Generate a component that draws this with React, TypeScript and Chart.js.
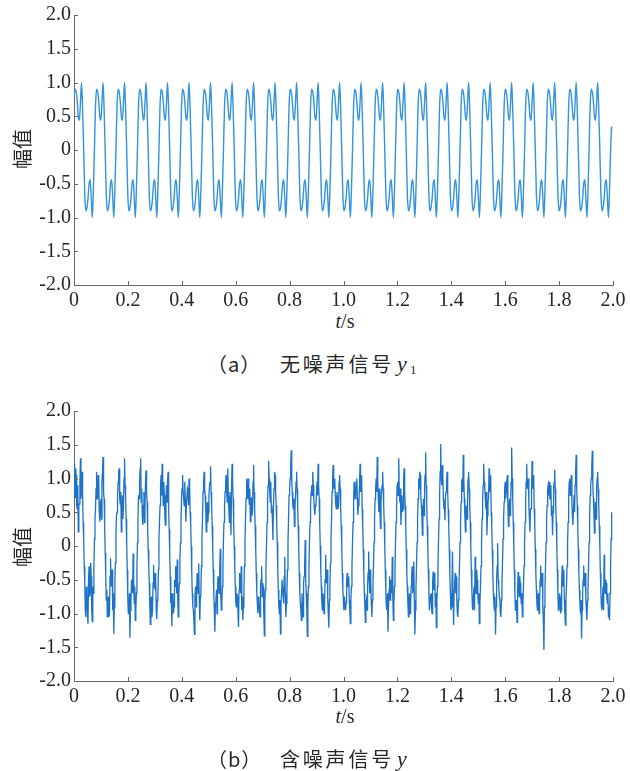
import React, { useEffect, useRef } from 'react';
import { Chart, registerables } from 'chart.js';

Chart.register(...registerables);

// sampling intervals (s)
const CLEAN_STEP = 0.00399;
const NOISY_STEP = 0.001995;

const X_TICKS = [0, 0.2, 0.4, 0.6, 0.8, 1.0, 1.2, 1.4, 1.6, 1.8, 2.0];
const Y_TICKS = [-2, -1.5, -1, -0.5, 0, 0.5, 1, 1.5, 2];

// (a) clean signal y1, read cycle by cycle (25 cycles, 20 samples each)
const cleanSignal = [
  0.8, 0.9, 0.86, 0.72, 0.5, 0.44, 0.7, 1, 0.6, 0, -0.65, -0.9, -0.86, -0.72, -0.5, -0.44, -0.7, -1, -0.6, 0,
  0.65, 0.9, 0.86, 0.72, 0.5, 0.44, 0.7, 1, 0.6, 0, -0.65, -0.9, -0.86, -0.72, -0.5, -0.44, -0.7, -1, -0.6, 0,
  0.65, 0.9, 0.86, 0.72, 0.5, 0.44, 0.7, 1, 0.6, 0, -0.65, -0.9, -0.86, -0.72, -0.5, -0.44, -0.7, -1, -0.6, 0,
  0.65, 0.9, 0.86, 0.72, 0.5, 0.44, 0.7, 1, 0.6, 0, -0.65, -0.9, -0.86, -0.72, -0.5, -0.44, -0.7, -1, -0.6, 0,
  0.65, 0.9, 0.86, 0.72, 0.5, 0.44, 0.7, 1, 0.6, 0, -0.65, -0.9, -0.86, -0.72, -0.5, -0.44, -0.7, -1, -0.6, 0,
  0.65, 0.9, 0.86, 0.72, 0.5, 0.44, 0.7, 1, 0.6, 0, -0.65, -0.9, -0.86, -0.72, -0.5, -0.44, -0.7, -1, -0.6, 0,
  0.65, 0.9, 0.86, 0.72, 0.5, 0.44, 0.7, 1, 0.6, 0, -0.65, -0.9, -0.86, -0.72, -0.5, -0.44, -0.7, -1, -0.6, 0,
  0.65, 0.9, 0.86, 0.72, 0.5, 0.44, 0.7, 1, 0.6, 0, -0.65, -0.9, -0.86, -0.72, -0.5, -0.44, -0.7, -1, -0.6, 0,
  0.65, 0.9, 0.86, 0.72, 0.5, 0.44, 0.7, 1, 0.6, 0, -0.65, -0.9, -0.86, -0.72, -0.5, -0.44, -0.7, -1, -0.6, 0,
  0.65, 0.9, 0.86, 0.72, 0.5, 0.44, 0.7, 1, 0.6, 0, -0.65, -0.9, -0.86, -0.72, -0.5, -0.44, -0.7, -1, -0.6, 0,
  0.65, 0.9, 0.86, 0.72, 0.5, 0.44, 0.7, 1, 0.6, 0, -0.65, -0.9, -0.86, -0.72, -0.5, -0.44, -0.7, -1, -0.6, 0,
  0.65, 0.9, 0.86, 0.72, 0.5, 0.44, 0.7, 1, 0.6, 0, -0.65, -0.9, -0.86, -0.72, -0.5, -0.44, -0.7, -1, -0.6, 0,
  0.65, 0.9, 0.86, 0.72, 0.5, 0.44, 0.7, 1, 0.6, 0, -0.65, -0.9, -0.86, -0.72, -0.5, -0.44, -0.7, -1, -0.6, 0,
  0.65, 0.9, 0.86, 0.72, 0.5, 0.44, 0.7, 1, 0.6, 0, -0.65, -0.9, -0.86, -0.72, -0.5, -0.44, -0.7, -1, -0.6, 0,
  0.65, 0.9, 0.86, 0.72, 0.5, 0.44, 0.7, 1, 0.6, 0, -0.65, -0.9, -0.86, -0.72, -0.5, -0.44, -0.7, -1, -0.6, 0,
  0.65, 0.9, 0.86, 0.72, 0.5, 0.44, 0.7, 1, 0.6, 0, -0.65, -0.9, -0.86, -0.72, -0.5, -0.44, -0.7, -1, -0.6, 0,
  0.65, 0.9, 0.86, 0.72, 0.5, 0.44, 0.7, 1, 0.6, 0, -0.65, -0.9, -0.86, -0.72, -0.5, -0.44, -0.7, -1, -0.6, 0,
  0.65, 0.9, 0.86, 0.72, 0.5, 0.44, 0.7, 1, 0.6, 0, -0.65, -0.9, -0.86, -0.72, -0.5, -0.44, -0.7, -1, -0.6, 0,
  0.65, 0.9, 0.86, 0.72, 0.5, 0.44, 0.7, 1, 0.6, 0, -0.65, -0.9, -0.86, -0.72, -0.5, -0.44, -0.7, -1, -0.6, 0,
  0.65, 0.9, 0.86, 0.72, 0.5, 0.44, 0.7, 1, 0.6, 0, -0.65, -0.9, -0.86, -0.72, -0.5, -0.44, -0.7, -1, -0.6, 0,
  0.65, 0.9, 0.86, 0.72, 0.5, 0.44, 0.7, 1, 0.6, 0, -0.65, -0.9, -0.86, -0.72, -0.5, -0.44, -0.7, -1, -0.6, 0,
  0.65, 0.9, 0.86, 0.72, 0.5, 0.44, 0.7, 1, 0.6, 0, -0.65, -0.9, -0.86, -0.72, -0.5, -0.44, -0.7, -1, -0.6, 0,
  0.65, 0.9, 0.86, 0.72, 0.5, 0.44, 0.7, 1, 0.6, 0, -0.65, -0.9, -0.86, -0.72, -0.5, -0.44, -0.7, -1, -0.6, 0,
  0.65, 0.9, 0.86, 0.72, 0.5, 0.44, 0.7, 1, 0.6, 0, -0.65, -0.9, -0.86, -0.72, -0.5, -0.44, -0.7, -1, -0.6, 0,
  0.65, 0.9, 0.86, 0.72, 0.5, 0.44, 0.7, 1, 0.6, 0, -0.65, -0.9, -0.86, -0.72, -0.5, -0.44, -0.7, -1, -0.6, 0,
  0.35,
];

// (b) noisy signal y, read cycle by cycle (25 cycles, 40 samples each)
const noisySignal = [
  1.22, 0.95, 0.72, 1.15, 1.05, 0.6, 0.55, 0.9, 0.21, 0.62, 0.62, 0.95, 1.3, 0.7, 0.85, 1.1, 0.75, 0.35, 0.1, -0.3, -0.55, -0.95, -1.05, -0.6, -0.7, -1.0, -1.15, -0.5, -0.3, -0.75, -0.7, -0.25, -0.45, -0.95, -1.12, -0.6, -0.7, -0.3, 0.1, 0.4,
  0.55, 0.85, 1.1, 0.7, 0.8, 1.05, 1.0, 0.5, 0.36, 0.65, 0.7, 0.4, 0.95, 1.1, 1.32, 0.8, 0.7, 0.3, -0.1, -0.4, -0.8, -0.65, -1.05, -0.8, -0.75, -1.05, -1.0, -0.45, -0.18, -0.6, -0.6, -0.35, -0.95, -0.7, -1.3, -0.9, -0.55, -0.25, 0.15, 0.45,
  0.5, 0.75, 0.95, 1.1, 1.15, 0.7, 0.62, 0.8, 0.21, 0.5, 0.75, 0.4, 0.58, 1.0, 1.3, 0.9, 0.75, 0.4, 0.05, -0.35, -0.75, -1.0, -0.95, -0.7, -1.36, -0.95, -0.8, -0.5, -0.55, -0.7, -0.11, -0.5, -0.85, -0.6, -1.1, -0.95, -0.7, -0.35, 0.05, 0.4,
  0.75, 0.7, 0.98, 1.15, 1.3, 0.65, 0.85, 0.45, 0.31, 0.6, 0.8, 0.35, 0.55, 0.95, 1.12, 0.8, 0.65, 0.25, -0.05, -0.3, -0.55, -0.9, -1.16, -0.8, -0.75, -1.05, -0.95, -0.55, -0.28, -0.6, -0.62, -0.4, -0.5, -0.95, -1.08, -0.8, -0.75, -0.35, 0.1, 0.35,
  0.6, 0.9, 1.05, 0.75, 1.22, 0.85, 0.6, 0.95, 0.75, 0.45, 0.31, 0.7, 0.9, 0.65, 0.95, 1.1, 0.55, 0.25, -0.1, -0.45, -0.85, -0.7, -1.19, -0.85, -0.7, -1.0, -0.9, -0.5, -0.6, -0.3, -0.35, -0.7, -0.2, -0.8, -1.05, -0.7, -0.55, -0.2, 0.05, 0.35,
  0.7, 0.85, 1.05, 0.8, 0.8, 0.6, 0.95, 0.7, 0.36, 0.6, 0.6, 0.85, 0.82, 0.6, 1.0, 0.9, 0.5, 0.35, 0.0, -0.4, -0.7, -0.9, -0.95, -1.1, -1.31, -0.75, -0.6, -0.9, -0.75, -0.4, -0.45, -0.7, -0.26, -0.8, -1.1, -0.75, -0.65, -0.3, 0.1, 0.4,
  0.8, 0.95, 1.1, 0.85, 0.75, 0.55, 0.21, 0.5, 0.65, 0.35, 0.5, 0.75, 0.9, 0.95, 1.18, 0.8, 0.6, 0.3, -0.05, -0.35, -0.7, -0.95, -1.27, -0.85, -0.8, -0.65, -1.0, -0.55, -0.45, -0.6, -0.7, -0.35, -0.04, -0.75, -0.95, -0.85, -0.6, -0.3, 0.1, 0.35,
  0.6, 0.8, 0.95, 1.05, 0.8, 0.65, 1.15, 0.75, 0.55, 0.35, 0.8, 0.5, 0.16, 0.85, 1.22, 0.95, 0.7, 0.35, 0.0, -0.3, -0.6, -0.85, -0.9, -0.7, -0.75, -1.0, -1.2, -0.65, -0.4, -0.55, -0.7, -0.3, -0.95, -0.75, -1.1, -0.9, -0.65, -0.3, 0.05, 0.4,
  0.7, 1.0, 0.85, 0.7, 1.0, 0.75, 0.62, 0.85, 0.36, 0.55, 0.72, 0.45, 0.5, 0.95, 1.2, 0.8, 0.55, 0.3, -0.05, -0.4, -0.7, -0.85, -1.0, -0.75, -0.8, -0.95, -1.05, -0.6, -0.5, -0.3, -0.75, -0.55, -0.6, -1.0, -1.33, -0.8, -0.65, -0.3, 0.0, 0.35,
  0.7, 0.9, 1.26, 1.0, 0.8, 0.65, 0.95, 0.5, 0.6, 0.4, 0.09, 0.6, 0.85, 1.1, 1.05, 0.8, 0.6, 0.35, 0.05, -0.35, -0.65, -0.9, -1.0, -0.8, -1.3, -0.85, -0.7, -0.5, -0.5, -0.75, -0.85, -0.45, -0.16, -0.7, -1.05, -0.85, -0.7, -0.35, 0.05, 0.4,
  0.75, 0.85, 1.0, 1.15, 1.42, 0.95, 0.8, 0.6, 0.55, 0.7, 0.29, 0.55, 0.75, 0.95, 1.1, 0.85, 0.6, 0.3, -0.05, -0.4, -0.7, -0.85, -0.95, -1.1, -0.7, -0.9, -1.05, -0.55, -0.45, -0.3, 0.09, -0.5, -0.7, -0.95, -1.34, -0.85, -0.6, -0.3, 0.05, 0.35,
  0.6, 0.8, 0.9, 0.75, 1.1, 0.9, 0.7, 0.55, 0.46, 0.6, 0.62, 0.8, 0.95, 0.75, 1.22, 0.9, 0.7, 0.35, 0.0, -0.35, -0.6, -0.85, -0.95, -0.7, -0.75, -1.0, -0.9, -0.5, -0.13, -0.55, -0.55, -0.35, -0.8, -1.0, -1.21, -0.8, -0.55, -0.25, 0.1, 0.4,
  0.8, 1.0, 1.2, 0.85, 0.9, 1.0, 0.75, 0.6, 0.55, 0.8, 0.7, 0.55, 0.6, 0.95, 1.05, 0.85, 0.55, 0.3, 0.0, -0.4, -0.65, -0.8, -0.95, -0.75, -0.75, -0.95, -0.85, -0.55, -0.4, -0.6, -0.6, -0.45, -0.8, -0.95, -1.15, -0.8, -0.6, -0.3, 0.05, 0.35,
  0.65, 0.95, 0.9, 0.7, 0.75, 0.95, 1.0, 0.7, 0.46, 0.6, 0.65, 0.9, 1.22, 0.8, 0.95, 1.05, 0.55, 0.3, -0.05, -0.4, -0.7, -0.9, -1.13, -0.85, -0.8, -0.95, -0.6, -0.4, -0.08, -0.5, -0.7, -0.35, -0.55, -0.85, -1.05, -0.8, -0.6, -0.3, 0.05, 0.4,
  0.7, 0.85, 1.0, 0.8, 1.32, 0.95, 0.7, 0.5, 0.85, 0.55, 0.26, 0.65, 0.8, 0.9, 1.1, 0.85, 0.6, 0.35, 0.0, -0.35, -0.7, -0.9, -0.95, -0.7, -1.27, -0.9, -0.65, -0.45, -0.8, -0.55, -0.5, -0.7, -0.16, -0.75, -1.1, -0.85, -0.6, -0.3, 0.05, 0.35,
  0.6, 0.9, 0.95, 0.75, 1.3, 0.8, 0.65, 0.85, 0.31, 0.55, 0.75, 0.5, 0.55, 1.0, 1.15, 0.8, 0.6, 0.3, -0.05, -0.4, -0.6, -0.85, -1.05, -0.8, -0.7, -1.0, -0.95, -0.6, -0.45, -0.3, -0.7, -0.5, -0.23, -0.8, -1.31, -0.95, -0.65, -0.3, 0.05, 0.4,
  0.7, 1.0, 0.85, 1.1, 1.05, 0.75, 0.6, 0.45, 0.16, 0.5, 0.7, 0.45, 0.9, 1.05, 1.39, 0.9, 0.65, 0.3, 0.0, -0.35, -0.65, -0.95, -0.95, -0.75, -0.7, -0.9, -1.0, -0.55, -0.38, -0.65, -0.6, -0.4, -0.9, -0.7, -1.21, -0.8, -0.6, -0.3, 0.1, 0.4,
  0.75, 1.1, 1.51, 1.0, 0.9, 1.2, 1.05, 0.7, 0.55, 0.6, 0.38, 0.75, 0.8, 0.95, 1.1, 0.8, 0.55, 0.3, -0.05, -0.4, -0.7, -0.95, -0.9, -0.6, -0.08, -0.7, -1.17, -0.65, -0.55, -0.4, -0.7, -0.45, -0.8, -1.0, -1.05, -0.8, -0.6, -0.3, 0.05, 0.35,
  0.65, 0.95, 1.0, 0.8, 1.35, 1.0, 0.7, 0.45, 0.21, 0.5, 0.6, 0.4, 0.75, 1.0, 1.1, 0.85, 0.6, 0.35, 0.0, -0.35, -0.65, -0.9, -0.95, -0.75, -0.6, -0.95, -0.16, -0.55, -0.7, -0.35, -0.5, -0.7, -0.85, -0.7, -1.15, -0.85, -0.6, -0.3, 0.05, 0.4,
  0.7, 0.9, 1.22, 0.95, 0.85, 0.7, 0.55, 0.8, 0.16, 0.45, 0.65, 0.7, 1.15, 0.8, 0.95, 1.05, 0.5, 0.3, -0.05, -0.4, -0.7, -0.85, -0.95, -0.75, -1.31, -0.9, -0.5, -0.3, 0.04, -0.5, -0.6, -0.75, -0.8, -1.0, -1.05, -0.8, -0.55, -0.25, 0.1, 0.4,
  0.65, 0.85, 0.95, 0.7, 0.8, 0.95, 1.05, 0.6, 0.29, 0.55, 0.7, 0.45, 0.55, 0.95, 1.46, 1.0, 0.7, 0.35, 0.0, -0.35, -0.7, -0.95, -0.9, -0.8, -1.13, -0.7, -0.38, -0.65, -0.75, -0.45, -0.55, -0.75, -0.85, -0.7, -1.05, -0.85, -0.6, -0.3, 0.05, 0.35,
  0.7, 0.95, 1.22, 0.85, 0.85, 1.0, 0.6, 0.4, 0.21, 0.55, 0.55, 0.8, 1.26, 0.85, 0.9, 1.05, 0.55, 0.3, -0.05, -0.4, -0.65, -0.85, -0.95, -0.75, -0.7, -1.0, -0.85, -0.5, -0.29, -0.6, -0.6, -0.4, -0.9, -1.1, -1.54, -0.9, -0.65, -0.3, 0.05, 0.4,
  0.6, 0.85, 0.9, 0.75, 0.95, 0.7, 0.7, 0.9, 0.45, 0.6, 0.16, 0.5, 0.8, 0.95, 1.13, 0.85, 0.6, 0.35, 0.0, -0.35, -0.7, -0.95, -0.9, -0.7, -0.75, -1.0, -0.95, -0.55, -0.29, -0.6, -0.55, -0.35, -0.8, -1.0, -1.17, -0.8, -0.6, -0.3, 0.05, 0.35,
  0.7, 0.95, 1.0, 0.75, 0.85, 1.05, 0.65, 0.45, 0.31, 0.55, 0.75, 0.5, 0.9, 1.1, 1.35, 0.85, 0.6, 0.3, -0.05, -0.4, -0.65, -0.85, -1.0, -0.8, -1.37, -0.95, -0.7, -0.5, -0.29, -0.6, -0.6, -0.4, -0.8, -0.95, -1.1, -0.8, -0.65, -0.3, 0.05, 0.4,
  0.75, 0.9, 1.0, 1.15, 1.41, 0.9, 0.7, 0.5, 0.19, 0.45, 0.65, 0.4, 0.85, 1.0, 1.1, 0.85, 0.6, 0.3, 0.0, -0.4, -0.7, -0.9, -0.95, -0.75, -0.6, -0.95, -0.13, -0.45, -0.7, -0.5, -0.55, -0.75, -0.85, -0.7, -1.05, -0.9, -1.1, -0.7, -0.3, 0.1,
  0.5,
];

const AXIS_COLOR = '#666666';
const TEXT_COLOR = '#262626';
const CLEAN_COLOR = '#3393dd';
const NOISY_COLOR = '#1f73c6';
const SERIF = "'Liberation Serif', 'Times New Roman', serif";
const CJK = "'Noto Sans CJK SC', 'Noto Sans', sans-serif";

const fmt = (v: number) => (Math.abs(v) < 1e-9 ? '0' : Number(v).toFixed(1));

const innerTicks = {
  id: 'innerTicks',
  afterDatasetsDraw(chart: any) {
    const { ctx, chartArea, scales } = chart;
    ctx.save();
    ctx.strokeStyle = AXIS_COLOR;
    ctx.lineWidth = 1;
    scales.x.ticks.forEach((t: any) => {
      const px = Math.round(scales.x.getPixelForValue(t.value)) + 0.5;
      ctx.beginPath();
      ctx.moveTo(px, chartArea.bottom);
      ctx.lineTo(px, chartArea.bottom - 4);
      ctx.stroke();
    });
    scales.y.ticks.forEach((t: any) => {
      const py = Math.round(scales.y.getPixelForValue(t.value)) + 0.5;
      ctx.beginPath();
      ctx.moveTo(chartArea.left, py);
      ctx.lineTo(chartArea.left + 4, py);
      ctx.stroke();
    });
    ctx.restore();
  },
};

function makeConfig(values: number[], step: number, color: string, width: number, smooth: boolean): any {
  const points = values.map((v, i) => ({ x: i * step, y: v }));
  return {
    type: 'line',
    data: {
      datasets: [
        {
          data: points,
          borderColor: color,
          borderWidth: width,
          pointRadius: 0,
          fill: false,
          tension: 0,
          cubicInterpolationMode: smooth ? 'monotone' : 'default',
        },
      ],
    },
    options: {
      animation: false,
      responsive: false,
      devicePixelRatio: 1,
      layout: { padding: { left: 0, right: 17, top: 15, bottom: 0 } },
      plugins: { legend: { display: false }, tooltip: { enabled: false }, title: { display: false } },
      scales: {
        x: {
          type: 'linear',
          min: 0,
          max: 2,
          afterBuildTicks: (s: any) => {
            s.ticks = X_TICKS.map((v) => ({ value: v }));
          },
          afterFit: (s: any) => {
            s.height = 25;
          },
          grid: { display: false, drawTicks: false },
          border: { display: true, color: AXIS_COLOR, width: 1 },
          ticks: {
            padding: 4,
            color: TEXT_COLOR,
            font: { family: SERIF, size: 20 },
            maxRotation: 0,
            autoSkip: false,
            callback: (v: any) => fmt(v),
          },
        },
        y: {
          type: 'linear',
          min: -2,
          max: 2,
          afterBuildTicks: (s: any) => {
            s.ticks = Y_TICKS.map((v) => ({ value: v }));
          },
          afterFit: (s: any) => {
            s.width = 74;
          },
          grid: { display: false, drawTicks: false },
          border: { display: true, color: AXIS_COLOR, width: 1 },
          ticks: {
            padding: 3,
            color: TEXT_COLOR,
            font: { family: SERIF, size: 20 },
            autoSkip: false,
            callback: (v: any) => fmt(v),
          },
        },
      },
    },
    plugins: [innerTicks],
  };
}

function SignalChart({ values, step, color, width, smooth, top }: { values: number[]; step: number; color: string; width: number; smooth: boolean; top: number }) {
  const ref = useRef<HTMLCanvasElement | null>(null);
  useEffect(() => {
    if (!ref.current) return;
    const chart = new Chart(ref.current, makeConfig(values, step, color, width, smooth));
    return () => chart.destroy();
  }, [values, step, color, width, smooth]);
  return (
    <canvas
      ref={ref}
      width={630}
      height={310}
      style={{ position: 'absolute', left: 0, top, width: 630, height: 310 }}
    />
  );
}

const abs = (left: number, top: number, extra: any = {}) => ({
  position: 'absolute' as const,
  left,
  top,
  whiteSpace: 'nowrap' as const,
  color: TEXT_COLOR,
  lineHeight: 1,
  ...extra,
});

function YLabel({ cy }: { cy: number }) {
  return (
    <div style={abs(22, cy, { transform: 'translate(-50%, -50%) rotate(-90deg)', fontFamily: CJK, fontSize: 20 })}>
      幅值
    </div>
  );
}

function XLabel({ cy }: { cy: number }) {
  return (
    <div style={abs(345, cy, { transform: 'translate(-50%, -50%)', fontFamily: SERIF, fontSize: 20 })}>
      <i>t</i>/s
    </div>
  );
}

function Caption({ cy, tag, text, sub }: { cy: number; tag: string; text: string; sub?: string }) {
  const top = cy - 10;
  return (
    <>
      <div style={abs(207, top, { fontFamily: CJK, fontSize: 20, letterSpacing: 1 })}>{tag}</div>
      <div style={abs(280, top, { fontFamily: CJK, fontSize: 20, letterSpacing: 2.8 })}>{text}</div>
      <div style={abs(397, top - 1, { fontFamily: SERIF, fontSize: 22, fontStyle: 'italic' })}>y</div>
      {sub ? <div style={abs(410, top + 9, { fontFamily: SERIF, fontSize: 13 })}>{sub}</div> : null}
    </>
  );
}

export default function App() {
  return (
    <div style={{ position: 'absolute', left: 0, top: 0, width: 630, height: 771, background: '#ffffff', overflow: 'hidden' }}>
      <SignalChart values={cleanSignal} step={CLEAN_STEP} color={CLEAN_COLOR} width={1.4} smooth={true} top={0} />
      <SignalChart values={noisySignal} step={NOISY_STEP} color={NOISY_COLOR} width={1.3} smooth={false} top={396} />
      <YLabel cy={149} />
      <YLabel cy={547} />
      <XLabel cy={321} />
      <XLabel cy={716} />
      <Caption cy={364} tag="（a）" text="无噪声信号" sub="1" />
      <Caption cy={759} tag="（b）" text="含噪声信号" />
    </div>
  );
}
